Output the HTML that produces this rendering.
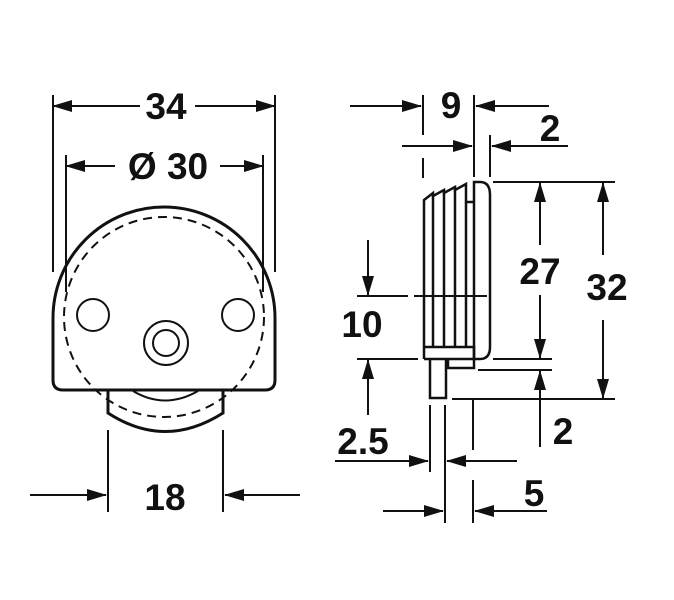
<!DOCTYPE html>
<html><head><style>
html,body{margin:0;padding:0;background:#fff;}
svg{display:block;}
text{font-family:"Liberation Sans",sans-serif;font-weight:bold;font-size:37px;fill:#111;text-anchor:middle;}
</style></head><body>
<svg width="674" height="600" viewBox="0 0 674 600" xmlns="http://www.w3.org/2000/svg">
<defs>
<marker id="a" markerWidth="20" markerHeight="12" refX="19" refY="6" orient="auto" markerUnits="userSpaceOnUse">
<path d="M0,0 L20,6 L0,12 Z" fill="#111"/></marker>
</defs>
<g stroke="#111" fill="none" stroke-width="2">
<path d="M53,318 A111,111 0 0 1 275,318 L275,380 Q275,390 265,390 L63,390 Q53,390 53,380 Z" stroke-width="3"/>
<circle cx="164" cy="317" r="100" stroke-dasharray="9,6"/>
<circle cx="93" cy="315" r="16"/>
<circle cx="238" cy="315" r="16"/>
<circle cx="166" cy="343" r="22"/>
<circle cx="166" cy="343" r="13"/>
<path d="M108,390 L108,413 Q165,450 223,413 L223,390" stroke-width="3"/>
<path d="M133,391 Q165,410 198,391"/>
<line x1="53" y1="95" x2="53" y2="272"/>
<line x1="275" y1="95" x2="275" y2="272"/>
<line x1="140" y1="106" x2="53" y2="106" marker-end="url(#a)"/>
<line x1="195" y1="106" x2="275" y2="106" marker-end="url(#a)"/>
<line x1="66" y1="155" x2="66" y2="292"/>
<line x1="263" y1="155" x2="263" y2="292"/>
<line x1="115" y1="166" x2="66" y2="166" marker-end="url(#a)"/>
<line x1="220" y1="166" x2="263" y2="166" marker-end="url(#a)"/>
<line x1="108" y1="430" x2="108" y2="512"/>
<line x1="223" y1="430" x2="223" y2="512"/>
<line x1="30" y1="495" x2="106" y2="495" marker-end="url(#a)"/>
<line x1="300" y1="495" x2="225" y2="495" marker-end="url(#a)"/>

<path d="M474,182 L480,182 Q490,182 490,195 L490,347 Q490,359 480,359 L474,359 Z" stroke-width="2.5"/>
<path d="M424,359 V200 L433,193 V196 L444,190 V193 L455,187 V190 L466,184 V202 L474,202" stroke-width="2.5"/>
<path d="M433,196 V347 M444,193 V347 M455,190 V347 M466,202 V347" stroke-width="2.5"/>
<path d="M424,347 L474,347 L474,359 L424,359" stroke-width="2.5"/>
<path d="M448,359 L448,368 L474,368 L474,359" stroke-width="2.5"/>
<path d="M430,359 L430,398 L446,398 L446,359" stroke-width="2.5"/>
<line x1="357" y1="296" x2="408" y2="296"/>
<line x1="414" y1="296" x2="487" y2="296"/>
<line x1="357" y1="359" x2="418" y2="359"/>
<line x1="368" y1="240" x2="368" y2="295" marker-end="url(#a)"/>
<line x1="368" y1="415" x2="368" y2="360" marker-end="url(#a)"/>
<line x1="493" y1="182" x2="615" y2="182"/>
<line x1="493" y1="359" x2="552" y2="359"/>
<line x1="478" y1="370" x2="552" y2="370"/>
<line x1="452" y1="399" x2="615" y2="399"/>
<line x1="540" y1="245" x2="540" y2="183" marker-end="url(#a)"/>
<line x1="540" y1="295" x2="540" y2="358" marker-end="url(#a)"/>
<line x1="603" y1="255" x2="603" y2="183" marker-end="url(#a)"/>
<line x1="603" y1="320" x2="603" y2="398" marker-end="url(#a)"/>
<line x1="540" y1="447" x2="540" y2="371" marker-end="url(#a)"/>
<line x1="423" y1="95" x2="423" y2="135"/>
<line x1="423" y1="158" x2="423" y2="178"/>
<line x1="474" y1="95" x2="474" y2="177"/>
<line x1="490" y1="135" x2="490" y2="177"/>
<line x1="350" y1="106" x2="421" y2="106" marker-end="url(#a)"/>
<line x1="549" y1="106" x2="476" y2="106" marker-end="url(#a)"/>
<line x1="402" y1="146" x2="472" y2="146" marker-end="url(#a)"/>
<line x1="568" y1="146" x2="492" y2="146" marker-end="url(#a)"/>
<line x1="430" y1="405" x2="430" y2="472"/>
<line x1="445" y1="405" x2="445" y2="523"/>
<line x1="473" y1="400" x2="473" y2="450"/>
<line x1="473" y1="480" x2="473" y2="523"/>
<line x1="335" y1="461" x2="428" y2="461" marker-end="url(#a)"/>
<line x1="517" y1="461" x2="447" y2="461" marker-end="url(#a)"/>
<line x1="383" y1="511" x2="443" y2="511" marker-end="url(#a)"/>
<line x1="547" y1="511" x2="475" y2="511" marker-end="url(#a)"/>
</g>
<text x="166" y="119">34</text>
<text x="168" y="179">Ø 30</text>
<text x="165" y="510">18</text>
<text x="451" y="118">9</text>
<text x="550" y="141">2</text>
<text x="540" y="284">27</text>
<text x="607" y="300">32</text>
<text x="362" y="337">10</text>
<text x="563" y="444">2</text>
<text x="363" y="454">2.5</text>
<text x="534" y="506">5</text>
</svg>
</body></html>
